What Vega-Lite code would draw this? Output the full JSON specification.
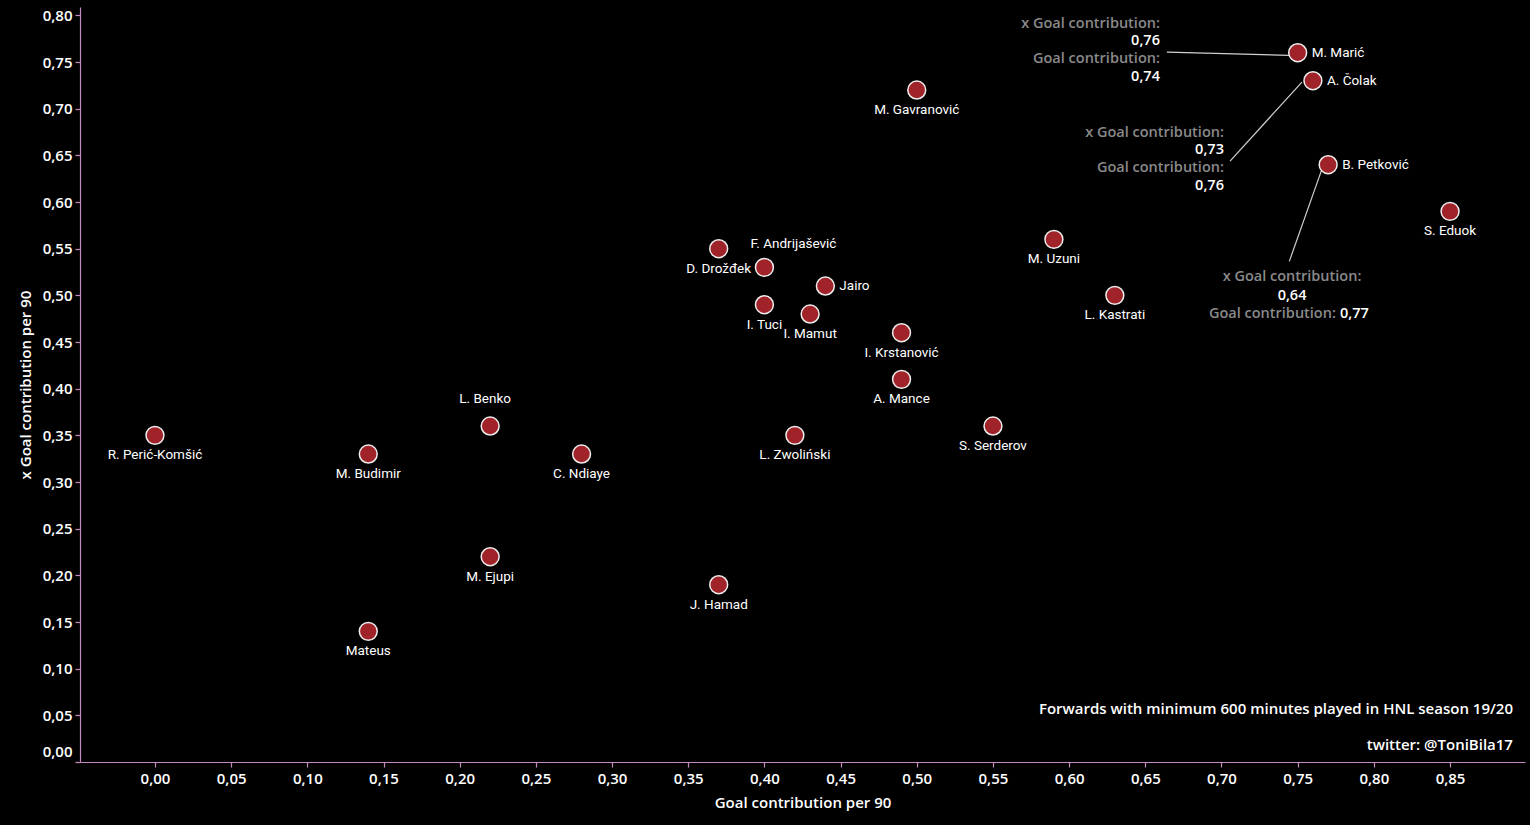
{
  "$schema": "https://vega.github.io/schema/vega-lite/v6.json",
  "background": "black",
  "autosize": "none",
  "width": 1445,
  "height": 755,
  "padding": {"left": 80, "top": 7, "right": 5, "bottom": 63},
  "config": {
    "view": {"stroke": null},
    "axis": {
      "domainColor": "#c68bbe",
      "tickColor": "#c68bbe",
      "domainWidth": 1.2,
      "tickWidth": 1.2,
      "tickSize": 5,
      "grid": false,
      "labelColor": "#ffffff",
      "labelFont": "Open Sans",
      "labelFontSize": 15,
      "labelFontWeight": 600,
      "titleColor": "#ffffff",
      "titleFont": "Open Sans",
      "titleFontSize": 15,
      "titleFontWeight": 600
    }
  },
  "datasets": {
    "players": [
      {"name": "R. Perić-Komšić", "x": 0.00, "y": 0.35, "pos": "below"},
      {"name": "M. Budimir", "x": 0.14, "y": 0.33, "pos": "below"},
      {"name": "Mateus", "x": 0.14, "y": 0.14, "pos": "below"},
      {"name": "L. Benko", "x": 0.22, "y": 0.36, "pos": "above"},
      {"name": "M. Ejupi", "x": 0.22, "y": 0.22, "pos": "below"},
      {"name": "C. Ndiaye", "x": 0.28, "y": 0.33, "pos": "below"},
      {"name": "J. Hamad", "x": 0.37, "y": 0.19, "pos": "below"},
      {"name": "D. Drožđek", "x": 0.37, "y": 0.55, "pos": "below"},
      {"name": "F. Andrijašević", "x": 0.40, "y": 0.53, "pos": "aboveright"},
      {"name": "I. Tuci", "x": 0.40, "y": 0.49, "pos": "below"},
      {"name": "Jairo", "x": 0.44, "y": 0.51, "pos": "right"},
      {"name": "I. Mamut", "x": 0.43, "y": 0.48, "pos": "below"},
      {"name": "L. Zwoliński", "x": 0.42, "y": 0.35, "pos": "below"},
      {"name": "M. Gavranović", "x": 0.50, "y": 0.72, "pos": "below"},
      {"name": "I. Krstanović", "x": 0.49, "y": 0.46, "pos": "below"},
      {"name": "A. Mance", "x": 0.49, "y": 0.41, "pos": "below"},
      {"name": "S. Serderov", "x": 0.55, "y": 0.36, "pos": "below"},
      {"name": "M. Uzuni", "x": 0.59, "y": 0.56, "pos": "below"},
      {"name": "L. Kastrati", "x": 0.63, "y": 0.50, "pos": "below"},
      {"name": "M. Marić", "x": 0.75, "y": 0.76, "pos": "right"},
      {"name": "A. Čolak", "x": 0.76, "y": 0.73, "pos": "right"},
      {"name": "B. Petković", "x": 0.77, "y": 0.64, "pos": "right"},
      {"name": "S. Eduok", "x": 0.85, "y": 0.59, "pos": "below"}
    ],
    "lines": [
      {"x": 0.6642, "y": 0.7607, "x2": 0.7449, "y2": 0.7572},
      {"x": 0.7056, "y": 0.6439, "x2": 0.7528, "y2": 0.7285},
      {"x": 0.7445, "y": 0.5364, "x2": 0.7668, "y2": 0.6393}
    ],
    "notes": [
      {"text": "x Goal contribution:", "x": 0.6596, "y": 0.7904, "kind": "label", "anchor": "right"},
      {"text": "0,76", "x": 0.6596, "y": 0.7722, "kind": "value", "anchor": "right"},
      {"text": "Goal contribution:", "x": 0.6596, "y": 0.7529, "kind": "label", "anchor": "right"},
      {"text": "0,74", "x": 0.6596, "y": 0.7336, "kind": "value", "anchor": "right"},
      {"text": "x Goal contribution:", "x": 0.7016, "y": 0.6736, "kind": "label", "anchor": "right"},
      {"text": "0,73", "x": 0.7016, "y": 0.6554, "kind": "value", "anchor": "right"},
      {"text": "Goal contribution:", "x": 0.7016, "y": 0.6361, "kind": "label", "anchor": "right"},
      {"text": "0,76", "x": 0.7016, "y": 0.6168, "kind": "value", "anchor": "right"},
      {"text": "x Goal contribution:", "x": 0.7463, "y": 0.5192, "kind": "label", "anchor": "center"},
      {"text": "0,64", "x": 0.7463, "y": 0.4998, "kind": "value", "anchor": "center"},
      {"text": "Goal contribution:", "x": 0.7751, "y": 0.4805, "kind": "label", "anchor": "right"},
      {"text": "0,77", "x": 0.7778, "y": 0.4805, "kind": "value", "anchor": "left"}
    ],
    "footer": [
      {"text": "Forwards with minimum 600 minutes played in HNL season 19/20", "x": 0.8913, "y": 0.0563},
      {"text": "twitter: @ToniBila17", "x": 0.8913, "y": 0.0177}
    ]
  },
  "encoding": {
    "x": {
      "field": "x", "type": "quantitative",
      "scale": {"domain": [-0.0492, 0.8992], "nice": false, "zero": false},
      "axis": {
        "title": "Goal contribution per 90",
        "values": [0, 0.05, 0.1, 0.15, 0.2, 0.25, 0.3, 0.35, 0.4, 0.45, 0.5, 0.55, 0.6, 0.65, 0.7, 0.75, 0.8, 0.85],
        "labelExpr": "replace(format(datum.value, '.2f'), '.', ',')",
        "labelPadding": 4,
        "titlePadding": 9
      }
    },
    "y": {
      "field": "y", "type": "quantitative",
      "scale": {"domain": [0, 0.809], "nice": false, "zero": false},
      "axis": {
        "title": "x Goal contribution per 90",
        "values": [0, 0.05, 0.1, 0.15, 0.2, 0.25, 0.3, 0.35, 0.4, 0.45, 0.5, 0.55, 0.6, 0.65, 0.7, 0.75, 0.8],
        "labelExpr": "replace(format(datum.value, '.2f'), '.', ',')",
        "labelFlush": true,
        "labelFlushOffset": -3,
        "labelPadding": 3,
        "titlePadding": 9
      }
    }
  },
  "layer": [
    {
      "data": {"name": "lines"},
      "mark": {"type": "rule", "color": "#d0d0d0", "strokeWidth": 1.2},
      "encoding": {"x2": {"field": "x2"}, "y2": {"field": "y2"}}
    },
    {
      "data": {"name": "players"},
      "mark": {"type": "point", "filled": true, "size": 320, "color": "#a1232a", "stroke": "#eeeeee", "strokeWidth": 1.5, "opacity": 1}
    },
    {
      "data": {"name": "players"},
      "transform": [{"filter": "datum.pos === 'below'"}],
      "mark": {"type": "text", "color": "#ffffff", "font": "Roboto", "fontSize": 13.5, "align": "center", "baseline": "middle", "dy": 20},
      "encoding": {"text": {"field": "name"}}
    },
    {
      "data": {"name": "players"},
      "transform": [{"filter": "datum.pos === 'above'"}],
      "mark": {"type": "text", "color": "#ffffff", "font": "Roboto", "fontSize": 13.5, "align": "center", "baseline": "middle", "dy": -27, "dx": -5},
      "encoding": {"text": {"field": "name"}}
    },
    {
      "data": {"name": "players"},
      "transform": [{"filter": "datum.pos === 'aboveright'"}],
      "mark": {"type": "text", "color": "#ffffff", "font": "Roboto", "fontSize": 13.5, "align": "center", "baseline": "middle", "dy": -23, "dx": 29},
      "encoding": {"text": {"field": "name"}}
    },
    {
      "data": {"name": "players"},
      "transform": [{"filter": "datum.pos === 'right'"}],
      "mark": {"type": "text", "color": "#ffffff", "font": "Roboto", "fontSize": 13.5, "align": "left", "baseline": "middle", "dx": 14},
      "encoding": {"text": {"field": "name"}}
    },
    {
      "data": {"name": "notes"},
      "transform": [{"filter": "datum.anchor === 'right'"}],
      "mark": {"type": "text", "font": "Open Sans", "fontSize": 14.5, "fontWeight": 600, "align": "right", "baseline": "middle"},
      "encoding": {
        "text": {"field": "text"},
        "color": {"field": "kind", "type": "nominal", "scale": {"domain": ["label", "value"], "range": ["#8a8a8a", "#ffffff"]}, "legend": null}
      }
    },
    {
      "data": {"name": "notes"},
      "transform": [{"filter": "datum.anchor === 'center'"}],
      "mark": {"type": "text", "font": "Open Sans", "fontSize": 14.5, "fontWeight": 600, "align": "center", "baseline": "middle"},
      "encoding": {
        "text": {"field": "text"},
        "color": {"field": "kind", "type": "nominal", "scale": {"domain": ["label", "value"], "range": ["#8a8a8a", "#ffffff"]}, "legend": null}
      }
    },
    {
      "data": {"name": "notes"},
      "transform": [{"filter": "datum.anchor === 'left'"}],
      "mark": {"type": "text", "font": "Open Sans", "fontSize": 14.5, "fontWeight": 600, "align": "left", "baseline": "middle"},
      "encoding": {
        "text": {"field": "text"},
        "color": {"field": "kind", "type": "nominal", "scale": {"domain": ["label", "value"], "range": ["#8a8a8a", "#ffffff"]}, "legend": null}
      }
    },
    {
      "data": {"name": "footer"},
      "mark": {"type": "text", "font": "Open Sans", "fontSize": 15, "fontWeight": 600, "color": "#ffffff", "align": "right", "baseline": "middle"},
      "encoding": {"text": {"field": "text"}}
    }
  ]
}
